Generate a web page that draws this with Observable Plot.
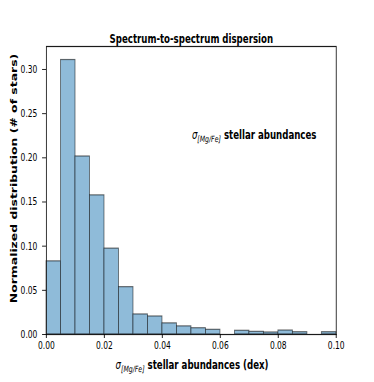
<!DOCTYPE html>
<html>
<head>
<meta charset="utf-8">
<script src="https://cdn.jsdelivr.net/npm/d3@7"></script>
<script src="https://cdn.jsdelivr.net/npm/@observablehq/plot@0.6"></script>
<style>
  body { margin: 0; background: #fff; }
  #chart svg { display: block; }
</style>
</head>
<body>
<div id="chart"></div>
<script>
// ---- data ----
const binStarts = [0.000, 0.005, 0.010, 0.015, 0.020, 0.025, 0.030, 0.035, 0.040, 0.045,
                   0.050, 0.055, 0.060, 0.065, 0.070, 0.075, 0.080, 0.085, 0.090, 0.095];
const binWidth = 0.005;
const density = [0.0828, 0.3107, 0.2015, 0.1575, 0.0972, 0.0536, 0.0227, 0.0204, 0.0126, 0.0092,
                 0.0071, 0.0053, 0.0000, 0.0042, 0.0030, 0.0023, 0.0045, 0.0026, 0.0000, 0.0026];
const xTicks = [0.00, 0.02, 0.04, 0.06, 0.08, 0.10];
const yTicks = [0.00, 0.05, 0.10, 0.15, 0.20, 0.25, 0.30];
const title = "Spectrum-to-spectrum dispersion";
const xLabel = "σ[Mg/Fe] stellar abundances (dex)";
const yLabel = "Normalized distribution (# of stars)";
const annotation = "σ[Mg/Fe] stellar abundances";
const annotationPos = [{x: 0.0502, y: 0.2256}];

const bars = binStarts.map((x0, i) => ({x1: x0, x2: x0 + binWidth, y: density[i]}));

// The reference figure is horizontally compressed; draw on a wider canvas
// and let the SVG viewBox squeeze it into the 374px-wide window.
const outW = 374, outH = 382, innerW = 520;
const font = "'DejaVu Sans', sans-serif";

const chart = Plot.plot({
  width: innerW,
  height: outH,
  marginLeft: 64,
  marginRight: 53,
  marginTop: 46,
  marginBottom: 48,
  style: {fontFamily: font, fontSize: "10.5px", background: "#fff", color: "#000"},
  x: {domain: [0, 0.1]},
  y: {domain: [0, 0.326]},
  marks: [
    Plot.rectY(bars, {x1: "x1", x2: "x2", y: "y", fill: "#8fbbd9", stroke: "#000", strokeOpacity: 0.55, strokeWidth: 1.2}),
    Plot.frame({stroke: "#1a1a1a", strokeWidth: 1.2}),
    Plot.axisX({ticks: xTicks, tickFormat: d3.format(".2f"), tickSize: 4, tickPadding: 3, label: null, fontSize: 10.5}),
    Plot.axisY({ticks: yTicks, tickFormat: d3.format(".2f"), tickSize: 5.5, tickPadding: 7, label: null, fontSize: 10.5}),
    Plot.text([title], {text: d => d, frameAnchor: "top", dy: -12, fontWeight: "bold", fontSize: 12}),
    Plot.text([yLabel], {text: d => d, frameAnchor: "left", textAnchor: "middle", rotate: -90, dx: -45.5, dy: -12,
      fontWeight: "bold", fontSize: 12.4}),
    Plot.text([xLabel], {text: d => d, frameAnchor: "bottom", dy: 34, dx: 1, fontWeight: "bold", fontSize: 12}),
    Plot.text(annotationPos, {x: "x", y: "y", text: () => annotation, textAnchor: "start", fontWeight: "bold", fontSize: 12})
  ]
});

// rebuild sigma labels with italic sigma and a subscript
d3.select(chart).selectAll("text").filter(function() {
  return this.textContent.startsWith("σ[Mg/Fe]");
}).each(function() {
  const t = d3.select(this);
  const rest = this.textContent.replace("σ[Mg/Fe]", "");
  t.text(null);
  t.append("tspan").attr("font-style", "italic").attr("font-weight", "normal").attr("font-size", 12).text("σ");
  t.append("tspan").attr("font-style", "italic").attr("font-weight", "normal").attr("font-size", 8.6).attr("dy", 3).text("[Mg/Fe]");
  t.append("tspan").attr("dy", -3).text(rest);
});

// squeeze horizontally into the output window
chart.setAttribute("viewBox", `0 0 ${innerW} ${outH}`);
chart.setAttribute("preserveAspectRatio", "none");
chart.setAttribute("width", outW);
chart.setAttribute("height", outH);
chart.style.width = outW + "px";
chart.style.height = outH + "px";
chart.style.maxWidth = "none";

document.getElementById("chart").appendChild(chart);
</script>
</body>
</html>
